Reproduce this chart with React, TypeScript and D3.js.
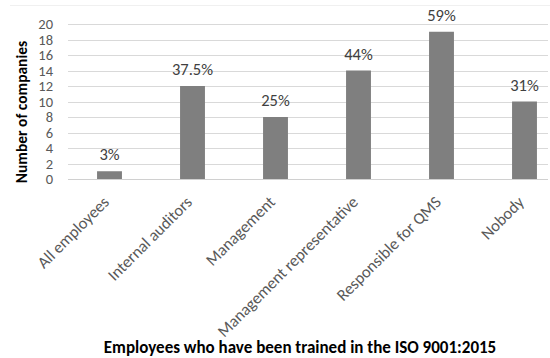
import React from "react";
import * as d3 from "d3";

const categories = [
  "All employees",
  "Internal auditors",
  "Management",
  "Management representative",
  "Responsible for QMS",
  "Nobody",
];
const counts = [1, 12, 8, 14, 19, 10];
const percentLabels = ["3%", "37.5%", "25%", "44%", "59%", "31%"];
const yTicks = [0, 2, 4, 6, 8, 10, 12, 14, 16, 18, 20];
const yTitle = "Number of companies";
const xTitle = "Employees who have been trained in the ISO 9001:2015";

const W = 550;
const H = 358;
const FONT = "Carlito, Calibri, 'Open Sans', 'Liberation Sans', sans-serif";

export default function App() {
  const x = d3.scaleBand<string>().domain(categories).range([68, 566]).paddingInner(0.7).paddingOuter(0.35);
  const y = d3.scaleLinear().domain([0, 20]).range([179, 24]);
  const gridRight = 548;

  return (
    <svg
      width={W}
      height={H}
      style={{ position: "absolute", left: 0, top: 0, background: "#fff" }}
      fontFamily={FONT}
    >
      <line x1={10} x2={550} y1={5.5} y2={5.5} stroke="#f0f0f0" strokeWidth={1} />
      {yTicks.map((t) => (
        <g key={t}>
          <line
            x1={68}
            x2={gridRight}
            y1={Math.round(y(t)) + 0.5}
            y2={Math.round(y(t)) + 0.5}
            stroke={t === 0 ? "#d0d0d0" : "#d9d9d9"}
            strokeWidth={1}
          />
          <text x={53} y={y(t)} dy="0.35em" textAnchor="end" fontSize={14.5} fill="#595959">
            {t}
          </text>
        </g>
      ))}
      {categories.map((c, i) => {
        const bx = x(c)!;
        const bw = x.bandwidth();
        return (
          <g key={c}>
            <rect x={bx} y={y(counts[i])} width={bw} height={y(0) - y(counts[i])} fill="#7f7f7f" />
            <text
              x={bx + bw / 2}
              y={y(counts[i]) - 11}
              textAnchor="middle"
              fontSize={16.5}
              fill="#404040"
            >
              {percentLabels[i]}
            </text>
            <text
              transform={`translate(${bx + bw / 2 - 3.5},${y(0) + 20}) rotate(-45)`}
              textAnchor="end"
              dy="0.35em"
              fontSize={16.5}
              fill="#595959"
            >
              {c}
            </text>
          </g>
        );
      })}
      <text
        transform={`translate(22,${112}) rotate(-90)`}
        textAnchor="middle"
        dy="0.35em"
        fontSize={15.5}
        fontWeight="bold"
        fill="#000"
      >
        {yTitle}
      </text>
      <text x={300} y={347} dy="0.35em" textAnchor="middle" fontSize={17} fontWeight="bold" fill="#000">
        {xTitle}
      </text>
    </svg>
  );
}
